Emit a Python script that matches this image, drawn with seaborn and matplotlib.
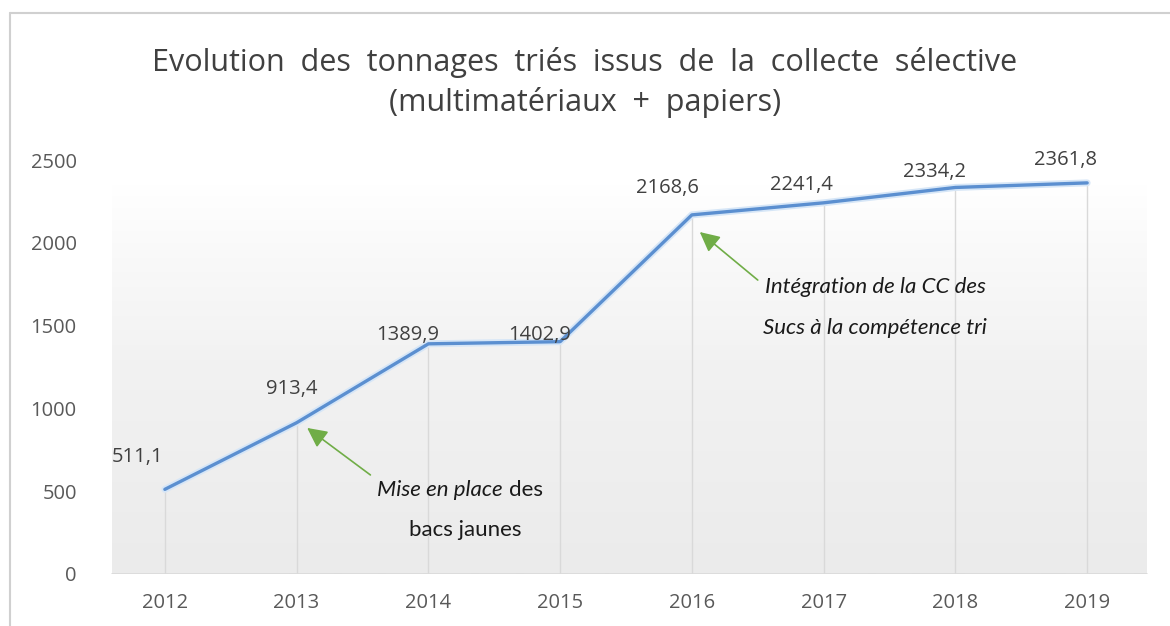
import numpy as np
import pandas as pd
import matplotlib
matplotlib.use("Agg")
import matplotlib.pyplot as plt
import matplotlib.patheffects as pe
from matplotlib.lines import Line2D
from matplotlib.colors import LinearSegmentedColormap
import seaborn as sns

# Tonnages triés issus de la collecte sélective
annees = [2012, 2013, 2014, 2015, 2016, 2017, 2018, 2019]
tonnages = [511.1, 913.4, 1389.9, 1402.9, 2168.6, 2241.4, 2334.2, 2361.8]
etiquettes = ["511,1", "913,4", "1389,9", "1402,9", "2168,6", "2241,4", "2334,2", "2361,8"]
graduations_y = [0, 500, 1000, 1500, 2000, 2500]

# Décalage de chaque étiquette de valeur par rapport à son point (pixels)
decalages_px = [(-27, 32), (-5, 34), (-21, 9), (-21, 7),
                (-24, 27), (-22, 18), (-21, 15), (-22, 23)]

df = pd.DataFrame({"annee": annees, "tonnage": tonnages})

sns.set_theme(style="white")
plt.rcParams["font.family"] = ["Open Sans", "DejaVu Sans"]

fig = plt.figure(figsize=(11.7, 6.26), dpi=100)
ax = fig.add_axes([0.0846, 0.0831, 0.9009, 0.6613])

ax.set_xlim(2011.5, 2019.5)
ax.set_ylim(0, 2500)

# Fond de la zone de traçage : dégradé gris clair vers blanc
grad = np.linspace(0, 1, 256).reshape(-1, 1)
cmap = LinearSegmentedColormap.from_list(
    "fond", [(0.0, "#ebebeb"), (0.55, "#f2f2f2"), (0.85, "#fafafa"), (1.0, "#ffffff")])
ax.imshow(grad, extent=(2011.6, 2019.45, 0, 2350), origin="lower", aspect="auto",
          cmap=cmap, zorder=0, interpolation="bilinear")

# Lignes de projection verticales
ax.vlines(df["annee"], 0, df["tonnage"], color="#d9d9d9", lw=1.0, zorder=1)
ax.axhline(0, xmin=0.012, xmax=0.994, color="#d9d9d9", lw=1.2, zorder=1)

sns.lineplot(data=df, x="annee", y="tonnage", ax=ax, color="#5b8fd0", lw=2.4,
             zorder=3,
             path_effects=[pe.Stroke(linewidth=5.0, foreground="#d6e6f7"), pe.Normal()])

for x, y, lab, (dx, dy) in zip(annees, tonnages, etiquettes, decalages_px):
    ax.annotate(lab, (x, y), xytext=(dx * 0.72, dy * 0.72), textcoords="offset points",
                ha="center", va="center", fontsize=14.5, color="#404040", zorder=4)

ax.set_xticks(annees)
ax.set_xticklabels([str(a) for a in annees])
ax.set_yticks(graduations_y)
ax.set_yticklabels([str(v) for v in graduations_y])
ax.tick_params(axis="both", labelsize=14.5, colors="#595959", length=0)
ax.tick_params(axis="x", pad=14)
ax.tick_params(axis="y", pad=16)
for s in ax.spines.values():
    s.set_visible(False)
ax.set_xlabel("")
ax.set_ylabel("")

# Annotations
vert = "#70ad47"
arrow = dict(arrowstyle="-|>,head_length=1.0,head_width=0.5", color=vert, lw=1.2,
             shrinkA=0, shrinkB=0)
ax.annotate("", xy=(2013.08, 882), xytext=(2013.56, 598), arrowprops=arrow, zorder=5)
ax.annotate("", xy=(2016.06, 2065), xytext=(2016.50, 1775), arrowprops=arrow, zorder=5)

txt = dict(fontsize=16, color="#1a1a1a", family=["Lato", "DejaVu Sans"])
ax.text(2014.56, 507, "Mise en place", style="italic", ha="right", va="center", **txt)
ax.text(2014.61, 507, "des", ha="left", va="center", **txt)
ax.text(2014.28, 266, "bacs jaunes", ha="center", va="center", **txt)
ax.text(2017.39, 1733, "Intégration de la CC des", style="italic", ha="center",
        va="center", **txt)
ax.text(2017.39, 1486, "Sucs à la compétence tri", style="italic", ha="center",
        va="center", **txt)

# Titre
fig.text(0.5, 1 - 62 / 626,
         "Evolution  des  tonnages  triés  issus  de  la  collecte  sélective",
         ha="center", va="center", fontsize=22, color="#404040")
fig.text(0.5, 1 - 103 / 626, "(multimatériaux  +  papiers)",
         ha="center", va="center", fontsize=22, color="#404040")

# Cadre du graphique
fig.add_artist(Line2D([10 / 1170, 1], [1 - 13 / 626, 1 - 13 / 626],
                      transform=fig.transFigure, color="#d0d0d0", lw=1.5))
fig.add_artist(Line2D([10 / 1170, 10 / 1170], [0, 1 - 13 / 626],
                      transform=fig.transFigure, color="#d0d0d0", lw=1.5))

fig.savefig("out.png", dpi=100, facecolor="white")
